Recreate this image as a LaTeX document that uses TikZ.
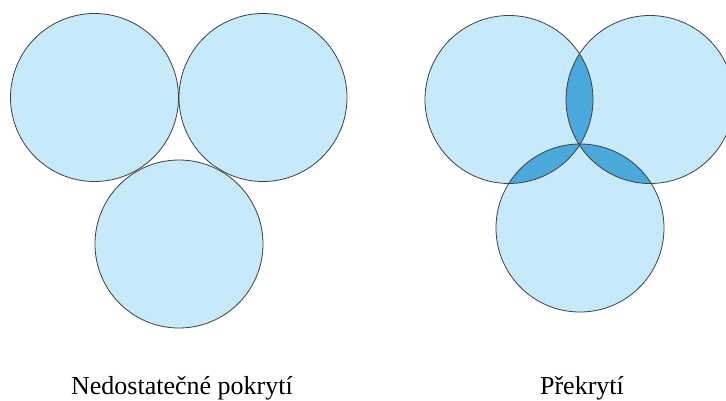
\documentclass[tikz,border=0pt]{standalone}
\usepackage{fontspec}
\setmainfont{Liberation Serif}
\usepackage{xcolor}
\usepackage{tikz}
\definecolor{disklight}{RGB}{198,234,250}
\definecolor{lensdark}{RGB}{74,168,218}
\tikzset{
  disk/.style={fill=disklight},
  rim/.style={draw=black!75, line width=0.8pt},
  caption/.style={font=\fontsize{26}{30}\selectfont, anchor=base, inner sep=0pt}
}

\begin{document}
\begin{tikzpicture}[x=1pt,y=-1pt]
\useasboundingbox (0,0) rectangle (726,400);
% Left: circles only touch
\coordinate (a1) at (94.5,97.5);
\coordinate (a2) at (263,97.5);
\coordinate (a3) at (179,244);
\foreach \c in {a1,a2,a3}
  \draw[disk, rim] (\c) circle (84);
\node[caption] (gap) at (182,394) {Nedostatečné pokrytí};
% Right: circles overlap
\coordinate (b1) at (509,99.5);
\coordinate (b2) at (650,99.5);
\coordinate (b3) at (580,228);
\foreach \c in {b1,b2,b3}
  \fill[disk] (\c) circle (84);
\foreach \p/\q in {b1/b2,b1/b3,b2/b3}{
  \begin{scope}
    \clip (\p) circle (84);
    \fill[lensdark] (\q) circle (84);
  \end{scope}
}
\foreach \c in {b1,b2,b3}
  \draw[rim] (\c) circle (84);
\node[caption] (overlap) at (582,394) {Překrytí};
\end{tikzpicture}
\end{document}
